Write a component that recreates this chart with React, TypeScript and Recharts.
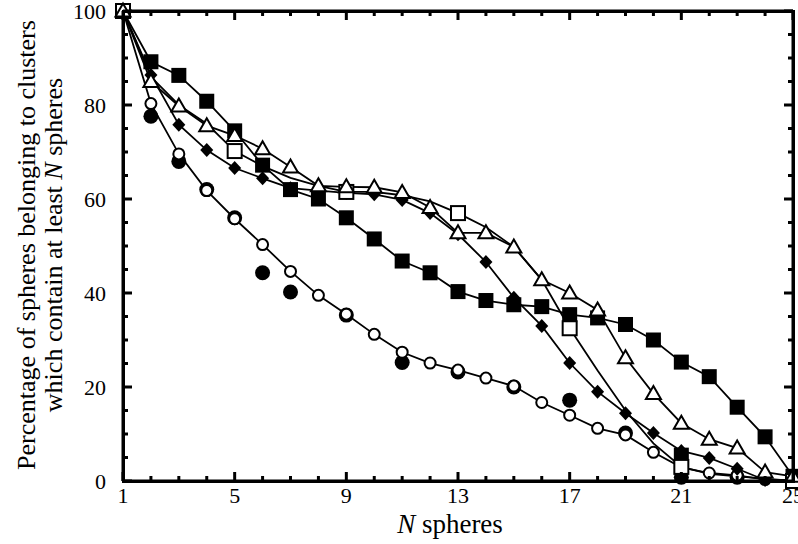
import { ComposedChart, Line, XAxis, YAxis } from "recharts";

// cluster size N on the x axis
const N = [1, 2, 3, 4, 5, 6, 7, 8, 9, 10, 11, 12, 13, 14, 15, 16, 17, 18, 19, 20, 21, 22, 23, 24, 25];

// percentage of spheres in clusters of at least N spheres
const filledSquares = [100, 89.2, 86.3, 80.8, 74.5, 67.2, 62, 60, 56, 51.5, 46.8, 44.3, 40.3, 38.4, 37.5, 37.1, 35.4, 34.7, 33.3, 30, 25.3, 22.2, 15.7, 9.4, 1];
const openTriangles = [100, 85, 79.8, 75.6, 73.5, 70.7, 66.8, 62.8, 62.6, 62.5, 61.4, 58.2, 52.8, 52.8, 49.8, 42.8, 40, 36.4, 26.2, 18.6, 12.3, 8.9, 7, 1.9, 1];
const diamonds = [100, 86.4, 75.8, 70.4, 66.6, 64.4, 62.3, 61.8, 61.3, 61, 59.8, 57, 52.5, 46.6, 39, 33, 25.1, 19, 14.4, 10.2, 6.4, 4.9, 2.6, 0.2, 0];
const openCircles = [100, 80.3, 69.6, 61.8, 55.8, 50.3, 44.6, 39.5, 35.5, 31.2, 27.4, 25.1, 23.6, 21.9, 20.2, 16.7, 14, 11.2, 9.8, 6.1, 2.9, 1.7, 1.2, 0.3, 0.2];
const openSquares = [100, 86, 80, 76, 70.2, 67, 64.5, 62.8, 61.5, 61.5, 60.8, 59.5, 57, 54, 49.8, 42.8, 32.5, 23.5, 15, 8, 3, 1.5, 1, 0.5, 0];

// points drawn without a connecting line
const filledCircleN = [1, 2, 3, 4, 5, 6, 7, 9, 11, 13, 15, 17, 19, 21, 23, 25];
const filledCircleV = [100, 77.6, 68, 62, 56, 44.3, 40.2, 35.3, 25.2, 23.2, 20, 17.2, 10.2, 0.8, 0.8, 0];
const extraSquareN = [21];
const extraSquareV = [5.5];

const rows = (vals: number[]) => N.map((n, i) => ({ n, v: vals[i] }));
const pts = (ns: number[], vals: number[]) => ns.map((n, i) => ({ n, v: vals[i] }));

const FONT = "'Liberation Serif', 'DejaVu Serif', serif";
const AXIS_LINE = { stroke: "#000", strokeWidth: 3 };
const GAP = 8; // default tickSize + tickMargin between axis and tick anchor
const isMajorX = (v: number) => (v - 1) % 4 === 0;
const isMajorY = (v: number) => Math.round(v) % 20 === 0;

const mark = (x1: number, y1: number, x2: number, y2: number) => (
  <path d={`M${x1},${y1}L${x2},${y2}`} stroke="#000" strokeWidth={3} fill="none" />
);

// inward tick marks on all four sides, labels on the bottom and left
const bottomTick = (p: any) => {
  const v = p.payload.value;
  const major = isMajorX(v);
  const y0 = p.y - GAP;
  return (
    <g>
      {mark(p.x, y0, p.x, y0 - (major ? 9 : 5))}
      {major && (
        <text x={p.x} y={y0 + 6} dy="0.71em" textAnchor="middle" fontSize={22} fontFamily={FONT} fill="#000">
          {v}
        </text>
      )}
    </g>
  );
};
const topTick = (p: any) => {
  const y0 = p.y + GAP;
  return mark(p.x, y0, p.x, y0 + (isMajorX(p.payload.value) ? 9 : 5));
};
const leftTick = (p: any) => {
  const v = p.payload.value;
  const major = isMajorY(v);
  const x0 = p.x + GAP;
  return (
    <g>
      {mark(x0, p.y, x0 + (major ? 9 : 5), p.y)}
      {major && (
        <text x={x0 - 17} y={p.y} dy="0.355em" textAnchor="end" fontSize={22} fontFamily={FONT} fill="#000">
          {v}
        </text>
      )}
    </g>
  );
};
const rightTick = (p: any) => {
  const x0 = p.x - GAP;
  return mark(x0, p.y, x0 - (isMajorY(p.payload.value) ? 9 : 5), p.y);
};

const filledSquareDot = (p: any) => (
  <rect key={`fs-${p.index}`} x={p.cx - 7.5} y={p.cy - 7.5} width={15} height={15} fill="#000" />
);
const triangleDot = (p: any) => (
  <path
    key={`tr-${p.index}`}
    d={`M${p.cx},${p.cy - 7.5} L${p.cx + 7.5},${p.cy + 5.5} L${p.cx - 7.5},${p.cy + 5.5} Z`}
    fill="#fff"
    stroke="#000"
    strokeWidth={2}
  />
);
const diamondDot = (p: any) => (
  <path
    key={`dm-${p.index}`}
    d={`M${p.cx},${p.cy - 7} L${p.cx + 6.5},${p.cy} L${p.cx},${p.cy + 7} L${p.cx - 6.5},${p.cy} Z`}
    fill="#000"
  />
);
const openCircleDot = (p: any) => (
  <circle key={`oc-${p.index}`} cx={p.cx} cy={p.cy} r={5.5} fill="#fff" stroke="#000" strokeWidth={2} />
);
// open squares only mark every fourth cluster size
const openSquareDot = (p: any) =>
  isMajorX(p.payload.n) ? (
    <rect key={`os-${p.index}`} x={p.cx - 7} y={p.cy - 7} width={14} height={14} fill="#fff" stroke="#000" strokeWidth={2} />
  ) : (
    <g key={`os-${p.index}`} />
  );
const filledCircleDot = (p: any) => <circle key={`fc-${p.index}`} cx={p.cx} cy={p.cy} r={7.5} fill="#000" />;

const yTitle = () => (
  <text fontSize={26} fontFamily={FONT} fill="#000" textAnchor="middle" transform="translate(35,245) rotate(-90)">
    <tspan x={0} dy={0}>Percentage of spheres belonging to clusters</tspan>
    <tspan x={0} dy={27}>
      which contain at least <tspan fontStyle="italic">N</tspan> spheres
    </tspan>
  </text>
);
const xTitle = () => (
  <text x={450} y={533} fontSize={27} fontFamily={FONT} fill="#000" textAnchor="middle">
    <tspan fontStyle="italic">N</tspan> spheres
  </text>
);

const lineProps = {
  type: "linear" as const,
  dataKey: "v",
  stroke: "#000",
  strokeWidth: 1.8,
  isAnimationActive: false,
  activeDot: false,
};
const numX = { type: "number" as const, dataKey: "n", domain: [1, 25], ticks: N, interval: 0 as const };
// tickCount 21 on 0..100 gives a tick every 5
const numY = { type: "number" as const, domain: [0, 100], tickCount: 21, interval: 0 as const };

export default function App() {
  return (
    <div style={{ position: "absolute", left: 0, top: 0, width: 798, height: 544 }}>
      <ComposedChart width={798} height={544} margin={{ top: 10, right: 4, bottom: 33, left: 23 }}>
        <XAxis {...numX} xAxisId="x" orientation="bottom" height={30} axisLine={AXIS_LINE} tickLine={false} tick={bottomTick} label={{ content: xTitle }} />
        <XAxis {...numX} xAxisId="top" orientation="top" height={1} axisLine={AXIS_LINE} tickLine={false} tick={topTick} />
        <YAxis {...numY} yAxisId="y" orientation="left" width={100} axisLine={AXIS_LINE} tickLine={false} tick={leftTick} label={{ content: yTitle }} />
        <YAxis {...numY} yAxisId="right" orientation="right" width={1} axisLine={AXIS_LINE} tickLine={false} tick={rightTick} />

        {/* scatter-only sets: a Line with no stroke */}
        <Line {...lineProps} xAxisId="x" yAxisId="y" data={pts(filledCircleN, filledCircleV)} stroke="none" dot={filledCircleDot} />
        <Line {...lineProps} xAxisId="top" yAxisId="right" data={pts(extraSquareN, extraSquareV)} stroke="none" dot={filledSquareDot} />

        <Line {...lineProps} xAxisId="x" yAxisId="y" data={rows(openCircles)} dot={openCircleDot} />
        <Line {...lineProps} xAxisId="top" yAxisId="y" data={rows(filledSquares)} dot={filledSquareDot} />
        <Line {...lineProps} xAxisId="x" yAxisId="right" data={rows(diamonds)} dot={diamondDot} />
        <Line {...lineProps} xAxisId="top" yAxisId="right" data={rows(openSquares)} dot={openSquareDot} />
        <Line {...lineProps} xAxisId="x" yAxisId="y" data={rows(openTriangles)} dot={triangleDot} />
      </ComposedChart>
      {/* plot frame */}
      <div
        style={{
          position: "absolute",
          left: 121.5,
          top: 9.5,
          width: 673,
          height: 473,
          boxSizing: "border-box",
          border: "3px solid #000",
          pointerEvents: "none",
        }}
      />
    </div>
  );
}
